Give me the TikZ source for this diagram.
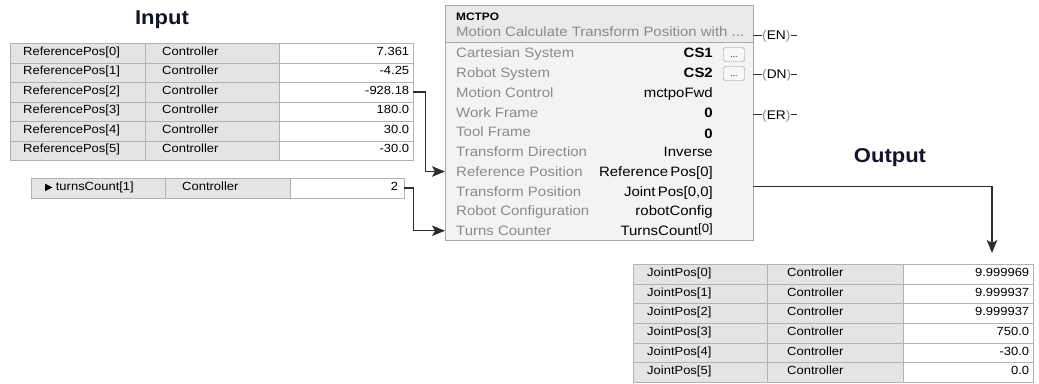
\documentclass[tikz,border=0pt]{standalone}
\usepackage{fontspec}
\setmainfont{Liberation Sans}[FakeStretch=1.1]
\newfontfamily\symfont{DejaVu Sans}
\usetikzlibrary{arrows.meta,calc}
\definecolor{cellgray}{HTML}{E4E4E4}
\definecolor{gridgray}{HTML}{B2B2B2}
\definecolor{boxfill}{HTML}{F3F3F3}
\definecolor{hdrfill}{HTML}{EAEAEA}
\definecolor{boxline}{HTML}{A8A8A8}
\definecolor{lblgray}{HTML}{8A8A8A}
\definecolor{wirecol}{HTML}{2E2E2E}
\definecolor{btnline}{HTML}{8C8C8C}
\definecolor{btnfill}{HTML}{F7F7F7}
\definecolor{titlecol}{HTML}{141428}
\begin{document}
\begin{tikzpicture}[x=1pt,y=-1pt,
  cell/.style={draw=gridgray, minimum height=19.5, inner ysep=0, text height=8.4, text depth=3.6,
    anchor=north west, font=\fontsize{11.8}{14}\selectfont},
  gcell/.style={cell, fill=cellgray},
  wcell/.style={cell, fill=white},
  lbl/.style={anchor=west, inner sep=0, text height=9.7, text depth=0, text=lblgray,
    font=\fontsize{13.6}{16}\selectfont},
  val/.style={anchor=east, inner sep=0, text height=9.7, text depth=0, text=black,
    font=\fontsize{13.6}{16}\selectfont},
  coil/.style={anchor=west, inner sep=0, text height=9, text depth=0,
    font=\fontsize{12.5}{14}\selectfont},
  coilwire/.style={draw=wirecol, line width=0.8},
  btn/.style={draw=btnline, fill=btnfill, rounded corners=2.5, minimum width=21, minimum height=14,
    inner sep=0, text height=6, text depth=0, font=\fontsize{8}{8}\selectfont},
  wire/.style={draw=wirecol, line width=1.3, -{Stealth[length=13pt,width=10.5pt,inset=3pt]}},
  titletext/.style={inner sep=0, text height=14, text depth=0, text=titlecol,
    font=\bfseries\fontsize{20}{24}\selectfont}
]
\useasboundingbox (0,0) rectangle (1039,383);

% Titles
\node[titletext] (tin) at (162,17) {Input};
\node[titletext] (tout) at (890,155.5) {Output};

% Input table
\foreach \i/\v in {0/7.361,1/-4.25,2/-928.18,3/180.0,4/30.0,5/-30.0}{
  \node[gcell, inner xsep=13, text width=109, align=left] (in-a\i) at (10,{43+19.5*\i}) {ReferencePos[\i]};
  \node[gcell, inner xsep=17, text width=100, align=left] (in-b\i) at (145,{43+19.5*\i}) {Controller};
  \node[wcell, inner xsep=4, text width=126, align=right] (in-c\i) at (279,{43+19.5*\i}) {\v};
}

% turnsCount row
\node[gcell, inner xsep=14, text width=106, align=left] (tc-a) at (31,178)
  {{\symfont\fontsize{10}{10}\selectfont ▶}\hspace{3pt}turnsCount[1]};
\node[gcell, inner xsep=17, text width=91, align=left] (tc-b) at (165,178) {Controller};
\node[wcell, inner xsep=6, text width=102, align=right] (tc-c) at (290,178) {2};

% Output table
\foreach \i/\v in {0/9.999969,1/9.999937,2/9.999937,3/750.0,4/-30.0,5/0.0}{
  \node[gcell, inner xsep=14, text width=106, align=left] (out-a\i) at (633,{264+19.67*\i}) {JointPos[\i]};
  \node[gcell, inner xsep=20, text width=96, align=left] (out-b\i) at (767,{264+19.67*\i}) {Controller};
  \node[wcell, inner xsep=4, text width=122, align=right] (out-c\i) at (903,{264+19.67*\i}) {\v};
}

% MCTPO block
\node[draw=boxline, fill=boxfill, minimum width=308, minimum height=235, anchor=north west, inner sep=0] (box) at (445,5) {};
\node[draw=boxline, fill=hdrfill, minimum width=308, minimum height=37, anchor=north west, inner sep=0] (hdr) at (445,5) {};
\node[anchor=west, inner sep=0, text height=8.3, text depth=0, font=\bfseries\fontsize{10.8}{12}\selectfont] (mname) at (456,16) {MCTPO};
\node[lbl] (mdesc) at (456,32) {Motion Calculate Transform Position with ...};

\node[lbl] (l0) at (456,53) {Cartesian System};
\node[lbl] (l1) at (456,72.75) {Robot System};
\node[lbl] (l2) at (456,92.5) {Motion Control};
\node[lbl] (l3) at (456,112.25) {Work Frame};
\node[lbl] (l4) at (456,132) {Tool Frame};
\node[lbl] (l5) at (456,151.75) {Transform Direction};
\node[lbl] (l6) at (456,171.5) {Reference Position};
\node[lbl] (l7) at (456,191.25) {Transform Position};
\node[lbl] (l8) at (456,211) {Robot Configuration};
\node[lbl] (l9) at (456,230.75) {Turns Counter};

\node[val] (v0) at (713,53) {\textbf{CS1}};
\node[val] (v1) at (713,72.75) {\textbf{CS2}};
\node[val] (v2) at (713,92.5) {mctpoFwd};
\node[val] (v3) at (713,112.25) {\textbf{0}};
\node[val] (v4) at (713,133.5) {\textbf{0}};
\node[val] (v5) at (713,151.75) {Inverse};
\node[val] (v6) at (713,171.5) {Reference\,Pos[0]};
\node[val] (v7) at (713,191.25) {Joint\,Pos[0,0]};
\node[val] (v8) at (713,211) {robotConfig};
\node[val] (v9) at (713,230.75) {TurnsCount\raisebox{3pt}{\fontsize{12}{12}\selectfont[0]}};

\node[btn] (b1) at (734,54.5) {...};
\node[btn] (b2) at (734,73.5) {...};

% Output coils
\node[coil] (en) at (762,35) {\textcolor{lblgray}{(}EN\textcolor{lblgray}{)}};
\node[coil] (dn) at (762,74) {\textcolor{lblgray}{(}DN\textcolor{lblgray}{)}};
\node[coil] (er) at (762,114.5) {\textcolor{lblgray}{(}ER\textcolor{lblgray}{)}};
\foreach \c in {en,dn,er}{
  \draw[coilwire] (box.east |- \c) -- (\c.west);
  \draw[coilwire] (\c.east) -- ++(6,0);
}

% Connectors
\coordinate (oa) at (992,253);
\draw[wire] (in-c2.east) -- ++(12,0) |- (box.west |- l6);
\draw[wire] (tc-c.east) -- ++(9,0) |- (box.west |- l9);
\draw[wire] ($(box.east |- l7)+(0,-4.5)$) -| (oa);
\end{tikzpicture}
\end{document}
